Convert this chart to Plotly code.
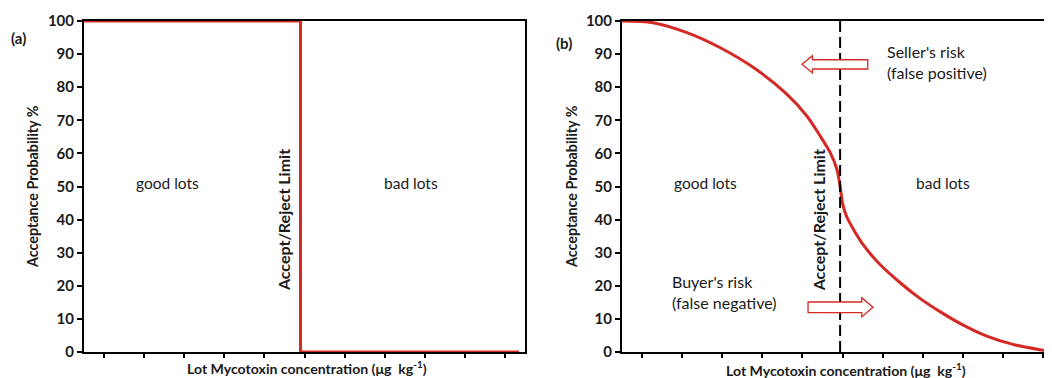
import plotly.graph_objects as go

# ---------------- data ----------------
y_ticks = [0, 10, 20, 30, 40, 50, 60, 70, 80, 90, 100]
x_ticks = [0.5, 1.5, 2.5, 3.5, 4.5, 5.5, 6.5, 7.5, 8.5, 9.5, 10.5]

# panel (a): ideal step curve
a_conc = [0.0, 5.4, 5.4, 10.85]
a_accept = [100, 100, 0, 0]

# panel (b): real operating characteristic curve
b_conc = [0.0, 0.77, 1.62, 2.44, 3.27, 4.11, 4.61, 4.94, 5.19, 5.36, 5.44,
          5.5, 5.6, 5.8, 6.01, 6.43, 6.93, 7.43, 7.93, 8.50, 9.10, 9.75, 10.42, 10.6]
b_accept = [100, 99.5, 96.5, 92, 86, 77.9, 71.3, 65.3, 60.3, 55.2, 50,
            45, 41, 36.5, 32.5, 26.5, 21, 16.2, 12.2, 8.2, 4.8, 2.3, 0.7, 0.4]

limit_b = 5.44

RED = "#d42a25"
FONT = "Lato"
TXT = "#1a1a1a"

# page body has an 8px margin: size the figure so that it fits the window
OFF = 8
W, H = 1052 - OFF, 378 - OFF


def px(x):
    return (x - OFF) / W


def py(y):
    return 1 - (y - OFF) / H


fig = go.Figure()
fig.add_trace(go.Scatter(x=a_conc, y=a_accept, mode="lines",
                         line=dict(color=RED, width=3), xaxis="x", yaxis="y",
                         showlegend=False, hoverinfo="skip"))
fig.add_trace(go.Scatter(x=b_conc, y=b_accept, mode="lines",
                         line=dict(color=RED, width=3, shape="spline", smoothing=0.8),
                         xaxis="x2", yaxis="y2", showlegend=False, hoverinfo="skip"))

ax_common = dict(showline=True, linecolor="black", linewidth=2, mirror=True,
                 ticks="outside", tickcolor="black", tickwidth=1.5,
                 showgrid=False, zeroline=False, automargin=False)

y_dom = [py(352), py(21)]
tick_font = dict(family=FONT, size=15, color=TXT, weight="bold")
fig.update_layout(
    width=W, height=H,
    margin=dict(l=0, r=0, t=0, b=0, autoexpand=False),
    showlegend=False,
    paper_bgcolor="white", plot_bgcolor="white",
    xaxis=dict(domain=[px(84), px(525)], range=[0, 11], tickvals=x_ticks,
               showticklabels=False, ticklen=4, anchor="y", **ax_common),
    yaxis=dict(domain=y_dom, range=[0, 100], tickvals=y_ticks, ticklen=5,
               anchor="x", tickfont=tick_font, **ax_common),
    xaxis2=dict(domain=[px(622), px(1049)], range=[0, 10.65], tickvals=x_ticks,
                showticklabels=False, ticklen=4, anchor="y2", **ax_common),
    yaxis2=dict(domain=y_dom, range=[0, 100], tickvals=y_ticks, ticklen=5,
                anchor="x2", tickfont=tick_font, **ax_common),
)

# dashed limit line in (b)
fig.add_shape(type="line", xref="x2", yref="y2", x0=limit_b, x1=limit_b, y0=0, y1=100,
              line=dict(color="black", width=2, dash="11px,5px"))


def arrow(xref, yref, tail, tip, yc, body, head, head_len):
    d = 1 if tip > tail else -1
    hb = tip - d * head_len
    path = (f"M {tip},{yc} L {hb},{yc + head} L {hb},{yc + body} L {tail},{yc + body} "
            f"L {tail},{yc - body} L {hb},{yc - body} L {hb},{yc - head} Z")
    fig.add_shape(type="path", xref=xref, yref=yref, path=path,
                  line=dict(color=RED, width=1.3), fillcolor="white")


arrow("x2", "y2", tail=6.13, tip=4.49, yc=86.9, body=1.4, head=2.6, head_len=0.26)
arrow("x2", "y2", tail=4.64, tip=6.26, yc=13.5, body=1.6, head=2.9, head_len=0.28)

reg = dict(family=FONT, size=15.5, color=TXT)
bold = dict(family=FONT, size=15, color=TXT, weight="bold")


def ann(text, x, y, xref, yref, font, xanchor="center", yanchor="middle", angle=0):
    fig.add_annotation(text=text, x=x, y=y, xref=xref, yref=yref, showarrow=False,
                       font=font, xanchor=xanchor, yanchor=yanchor, textangle=angle,
                       align="left")


# panel (a) texts
ann("good lots", 2.09, 51.2, "x", "y", reg)
ann("bad lots", 8.15, 51.2, "x", "y", reg)
ann("Accept/Reject Limit", 4.96, 39.8, "x", "y", dict(bold, size=16), angle=-90)
# panel (b) texts
ann("good lots", 2.09, 51.2, "x2", "y2", reg)
ann("bad lots", 8.0, 51.2, "x2", "y2", reg)
ann("Accept/Reject Limit", 4.89, 39.8, "x2", "y2", dict(bold, size=16), angle=-90)
ann("Seller's risk<br>(false positive)", 6.56, 87.5, "x2", "y2", dict(reg, size=16),
    xanchor="left")
ann("Buyer's risk<br>(false negative)", 1.2, 18.2, "x2", "y2", dict(reg, size=16),
    xanchor="left")

# panel labels & axis titles (paper coords)
ann("(a)", px(18), py(38), "paper", "paper", bold)
ann("(b)", px(564), py(43), "paper", "paper", bold)
ytitle = "Acceptance Probability %"
ann(ytitle, px(33), py(187), "paper", "paper", dict(bold, size=14.3), angle=-90)
ann(ytitle, px(572), py(187), "paper", "paper", dict(bold, size=14.3), angle=-90)
xtitle = "Lot Mycotoxin concentration (μg  kg<sup>-1</sup>)"
ann(xtitle, px(307), py(367), "paper", "paper", dict(bold, size=14.1))
ann(xtitle, px(846), py(369), "paper", "paper", dict(bold, size=14.1))

fig.write_html("out.html")
